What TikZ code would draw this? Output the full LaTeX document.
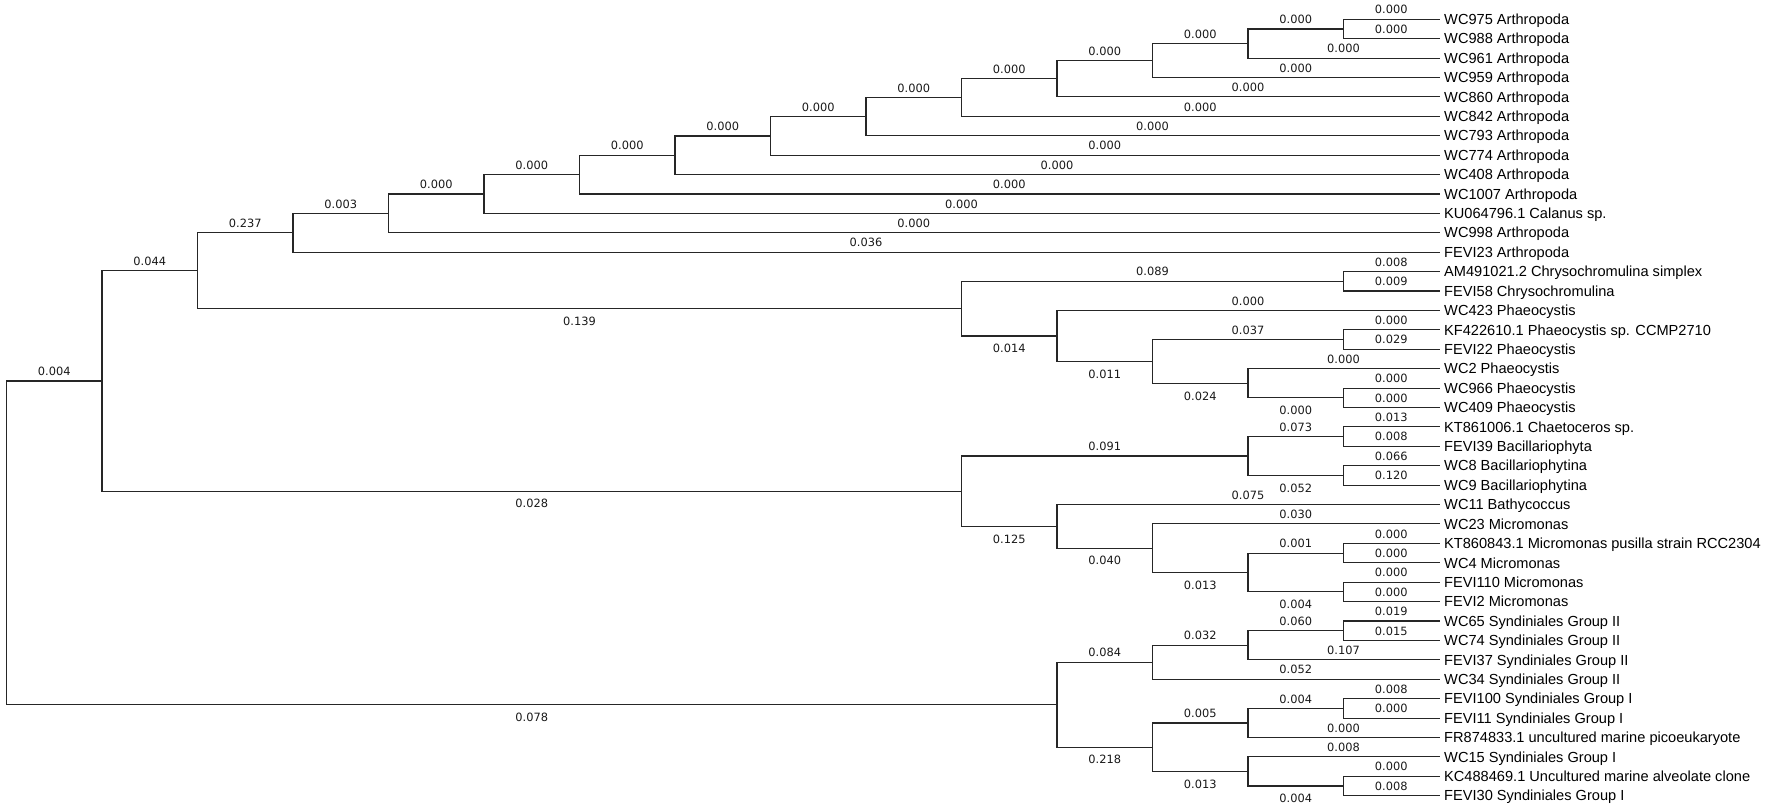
\documentclass[tikz,border=0pt]{standalone}
\usepackage{fontspec}
\newfontfamily\leaffont{Liberation Sans}
\newfontfamily\labfont{DejaVu Sans}
\newcommand\tbr[4]{\draw[branch] (#1) |- node[#3]{#4} (#2);}
\begin{document}
\begin{tikzpicture}[x=1pt,y=-1pt,
  branch/.style={line width=1.15pt, draw=black!85, line cap=rect},
  ab/.style={pos=0.75, yshift=9.5pt, font=\labfont\fontsize{11.4}{13}\selectfont, inner sep=0pt, text=black!90},
  be/.style={pos=0.75, yshift=-12.6pt, font=\labfont\fontsize{11.4}{13}\selectfont, inner sep=0pt, text=black!90},
  leaf/.style={anchor=base west, inner sep=0pt, font=\leaffont\fontsize{14.6}{16}\selectfont}]
\fill[white] (0,0) rectangle (1772,810);
\useasboundingbox (0,0) rectangle (1772,810);
% leaf tips and labels
\foreach \i/\yy/\txt in {
 0/19.3/WC975 Arthropoda, 1/38.7/WC988 Arthropoda, 2/58.1/WC961 Arthropoda,
 3/77.5/WC959 Arthropoda, 4/96.9/WC860 Arthropoda, 5/116.4/WC842 Arthropoda,
 6/135.8/WC793 Arthropoda, 7/155.2/WC774 Arthropoda, 8/174.6/WC408 Arthropoda,
 9/194.0/WC1007 Arthropoda, 10/213.4/KU064796.1 Calanus sp., 11/232.8/WC998 Arthropoda,
 12/252.2/FEVI23 Arthropoda, 13/271.6/AM491021.2 Chrysochromulina simplex,
 14/291.0/FEVI58 Chrysochromulina, 15/310.5/WC423 Phaeocystis,
 16/329.9/KF422610.1 Phaeocystis sp. CCMP2710, 17/349.3/FEVI22 Phaeocystis,
 18/368.7/WC2 Phaeocystis, 19/388.1/WC966 Phaeocystis, 20/407.5/WC409 Phaeocystis,
 21/426.9/KT861006.1 Chaetoceros sp., 22/446.3/FEVI39 Bacillariophyta,
 23/465.7/WC8 Bacillariophytina, 24/485.1/WC9 Bacillariophytina,
 25/504.5/WC11 Bathycoccus, 26/523.9/WC23 Micromonas,
 27/543.4/KT860843.1 Micromonas pusilla strain RCC2304, 28/562.8/WC4 Micromonas,
 29/582.2/FEVI110 Micromonas, 30/601.6/FEVI2 Micromonas,
 31/621.0/WC65 Syndiniales Group II, 32/640.4/WC74 Syndiniales Group II,
 33/659.8/FEVI37 Syndiniales Group II, 34/679.2/WC34 Syndiniales Group II,
 35/698.7/FEVI100 Syndiniales Group I, 36/718.1/FEVI11 Syndiniales Group I,
 37/737.5/FR874833.1 uncultured marine picoeukaryote, 38/756.9/WC15 Syndiniales Group I,
 39/776.3/KC488469.1 Uncultured marine alveolate clone, 40/795.7/FEVI30 Syndiniales Group I}
{
  \coordinate (l\i) at (1439,\yy);
  \node[leaf] (t\i) at (1444,\yy+5.2) {\txt};
}
% internal nodes
\coordinate (root) at (6.5,542.8);
\coordinate (a1) at (102,380.95);
\coordinate (a2) at (197.5,270.7);
\coordinate (a3) at (293,232.8);
\coordinate (a4) at (388.5,213.4);
\coordinate (a5) at (484,194.0);
\coordinate (a6) at (579.5,174.65);
\coordinate (a7) at (675,155.3);
\coordinate (a8) at (770.5,135.95);
\coordinate (a9) at (866,116.7);
\coordinate (a10) at (961.5,97.55);
\coordinate (a11) at (1057,78.7);
\coordinate (a12) at (1152.5,60.5);
\coordinate (a13) at (1248,43.55);
\coordinate (a14) at (1343.5,29.0);
\coordinate (h10) at (961.5,308.6);
\coordinate (h14a) at (1343.5,281.3);
\coordinate (h11) at (1057,335.95);
\coordinate (h12) at (1152.5,361.4);
\coordinate (h14b) at (1343.5,339.6);
\coordinate (h13) at (1248,383.25);
\coordinate (h14c) at (1343.5,397.8);
\coordinate (o10) at (961.5,491.2);
\coordinate (b13) at (1248,456.0);
\coordinate (b14a) at (1343.5,436.6);
\coordinate (b14b) at (1343.5,475.4);
\coordinate (m11) at (1057,526.35);
\coordinate (m12) at (1152.5,548.2);
\coordinate (m13) at (1248,572.5);
\coordinate (m14a) at (1343.5,553.1);
\coordinate (m14b) at (1343.5,591.9);
\coordinate (s11) at (1057,704.7);
\coordinate (s12a) at (1152.5,662.2);
\coordinate (s13a) at (1248,645.25);
\coordinate (s14a) at (1343.5,630.7);
\coordinate (s12b) at (1152.5,747.2);
\coordinate (s13b) at (1248,722.95);
\coordinate (s14b) at (1343.5,708.4);
\coordinate (s13c) at (1248,771.45);
\coordinate (s14c) at (1343.5,786.0);
% branches
\tbr{root}{a1}{ab}{0.004}
\tbr{root}{s11}{be}{0.078}
\tbr{a1}{a2}{ab}{0.044}
\tbr{a1}{o10}{be}{0.028}
\tbr{a2}{a3}{ab}{0.237}
\tbr{a2}{h10}{be}{0.139}
\tbr{a3}{a4}{ab}{0.003}
\tbr{a3}{l12}{ab}{0.036}
\tbr{a4}{a5}{ab}{0.000}
\tbr{a4}{l11}{ab}{0.000}
\tbr{a5}{a6}{ab}{0.000}
\tbr{a5}{l10}{ab}{0.000}
\tbr{a6}{a7}{ab}{0.000}
\tbr{a6}{l9}{ab}{0.000}
\tbr{a7}{a8}{ab}{0.000}
\tbr{a7}{l8}{ab}{0.000}
\tbr{a8}{a9}{ab}{0.000}
\tbr{a8}{l7}{ab}{0.000}
\tbr{a9}{a10}{ab}{0.000}
\tbr{a9}{l6}{ab}{0.000}
\tbr{a10}{a11}{ab}{0.000}
\tbr{a10}{l5}{ab}{0.000}
\tbr{a11}{a12}{ab}{0.000}
\tbr{a11}{l4}{ab}{0.000}
\tbr{a12}{a13}{ab}{0.000}
\tbr{a12}{l3}{ab}{0.000}
\tbr{a13}{a14}{ab}{0.000}
\tbr{a13}{l2}{ab}{0.000}
\tbr{a14}{l0}{ab}{0.000}
\tbr{a14}{l1}{ab}{0.000}
% Haptophyta
\tbr{h10}{h14a}{ab}{0.089}
\tbr{h10}{h11}{be}{0.014}
\tbr{h14a}{l13}{ab}{0.008}
\tbr{h14a}{l14}{ab}{0.009}
\tbr{h11}{l15}{ab}{0.000}
\tbr{h11}{h12}{be}{0.011}
\tbr{h12}{h14b}{ab}{0.037}
\tbr{h12}{h13}{be}{0.024}
\tbr{h14b}{l16}{ab}{0.000}
\tbr{h14b}{l17}{ab}{0.029}
\tbr{h13}{l18}{ab}{0.000}
\tbr{h13}{h14c}{be}{0.000}
\tbr{h14c}{l19}{ab}{0.000}
\tbr{h14c}{l20}{ab}{0.000}
% diatoms and green algae
\tbr{o10}{b13}{ab}{0.091}
\tbr{o10}{m11}{be}{0.125}
\tbr{b13}{b14a}{ab}{0.073}
\tbr{b13}{b14b}{be}{0.052}
\tbr{b14a}{l21}{ab}{0.013}
\tbr{b14a}{l22}{ab}{0.008}
\tbr{b14b}{l23}{ab}{0.066}
\tbr{b14b}{l24}{ab}{0.120}
\tbr{m11}{l25}{ab}{0.075}
\tbr{m11}{m12}{be}{0.040}
\tbr{m12}{l26}{ab}{0.030}
\tbr{m12}{m13}{be}{0.013}
\tbr{m13}{m14a}{ab}{0.001}
\tbr{m13}{m14b}{be}{0.004}
\tbr{m14a}{l27}{ab}{0.000}
\tbr{m14a}{l28}{ab}{0.000}
\tbr{m14b}{l29}{ab}{0.000}
\tbr{m14b}{l30}{ab}{0.000}
% Syndiniales
\tbr{s11}{s12a}{ab}{0.084}
\tbr{s11}{s12b}{be}{0.218}
\tbr{s12a}{s13a}{ab}{0.032}
\tbr{s12a}{l34}{ab}{0.052}
\tbr{s13a}{s14a}{ab}{0.060}
\tbr{s13a}{l33}{ab}{0.107}
\tbr{s14a}{l31}{ab}{0.019}
\tbr{s14a}{l32}{ab}{0.015}
\tbr{s12b}{s13b}{ab}{0.005}
\tbr{s12b}{s13c}{be}{0.013}
\tbr{s13b}{s14b}{ab}{0.004}
\tbr{s13b}{l37}{ab}{0.000}
\tbr{s14b}{l35}{ab}{0.008}
\tbr{s14b}{l36}{ab}{0.000}
\tbr{s13c}{l38}{ab}{0.008}
\tbr{s13c}{s14c}{be}{0.004}
\tbr{s14c}{l39}{ab}{0.000}
\tbr{s14c}{l40}{ab}{0.008}
\end{tikzpicture}
\end{document}
